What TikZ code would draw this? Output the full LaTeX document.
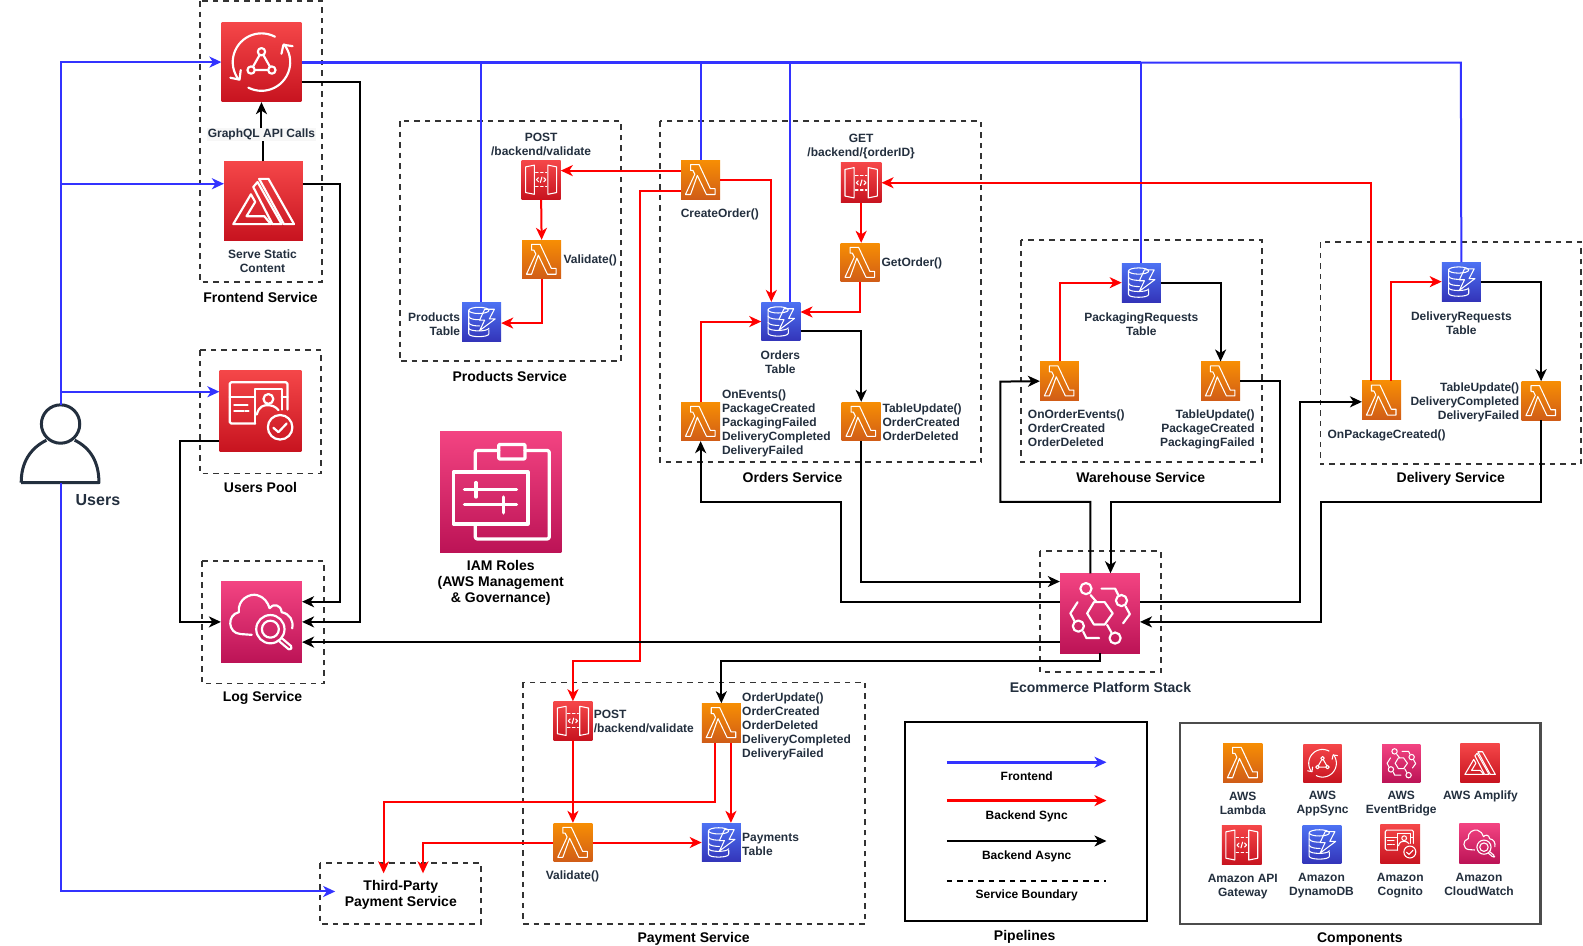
\documentclass[tikz,border=0pt]{standalone}
\usepackage{fontspec}
\setmainfont{Liberation Sans}
\usetikzlibrary{arrows.meta,calc}
\definecolor{ink}{HTML}{232F3E}
\definecolor{feblue}{HTML}{3333FF}
\definecolor{syncred}{HTML}{FF0000}
\definecolor{boundary}{HTML}{333333}
\tikzset{
 lbl/.style={font=\bfseries\fontsize{12}{14}\selectfont,text=ink,inner sep=0pt,align=center,yshift=-1.2pt},
 lbll/.style={lbl,align=left},
 lblr/.style={lbl,align=right},
 ttl/.style={font=\bfseries\fontsize{14}{16}\selectfont,text=black,inner sep=0pt,align=center,yshift=-1.2pt},
 tip/.style={-{Stealth[length=12pt,width=11pt,inset=3.5pt]}},
 bk/.style={draw=black,line width=2pt,line join=miter},
 rd/.style={draw=syncred,line width=2pt,line join=miter},
 bl/.style={draw=feblue,line width=2pt,line join=miter},
 dbox/.style={draw=boundary,line width=1.9pt,dash pattern=on 5.5pt off 5pt,inner sep=0pt},
 orangeico/.style={top color=orange1,bottom color=orange2,inner sep=0pt,draw=none},
 redico/.style={top color=red1,bottom color=red2,inner sep=0pt,draw=none},
 pinkico/.style={top color=pink1,bottom color=pink2,inner sep=0pt,draw=none},
 blueico/.style={top color=blue1,bottom color=blue2,inner sep=0pt,draw=none},
 glyph/.style={draw=white,line join=round,line cap=round},
}
\definecolor{orange1}{HTML}{F78E04}\definecolor{orange2}{HTML}{D05C17}
\definecolor{red1}{HTML}{F54749}\definecolor{red2}{HTML}{C7131F}
\definecolor{pink1}{HTML}{F34482}\definecolor{pink2}{HTML}{BC1356}
\definecolor{blue1}{HTML}{4D72F3}\definecolor{blue2}{HTML}{3334B9}
\newcommand\ico[6]{%
 \node[#5,minimum size=#4*1.0096pt] (#1) at (#2,#3) {};
 \pgfmathsetmacro\uu{#4*0.010096}\pgfmathsetmacro\lw{\uu*2.7}
 \begin{scope}[shift={(#1.center)},x=\uu pt,y=-\uu pt,line width=\lw pt]#6\end{scope}}
\newcommand\gLambda{\draw[glyph] (-26,-39)--(-4,-39)--(25,23)--(37,23)--(37,38)--(15,38)--(-8.5,-11)--(-26,38)--(-39,38)--(-15,-14)--(-20,-24)--(-26,-24)--cycle;}
\newcommand\gSync{\draw[glyph] plot[domain=62:217,samples=24] ({36*cos(\x)},{-36*sin(\x)});
 \draw[glyph] plot[domain=-117:38,samples=24] ({36*cos(\x)},{-36*sin(\x)});
 \draw[glyph] (-39,19.6)--(-27.5,22)--(-26,10); \draw[glyph] (25,-10.4)--(27.5,-21.7)--(39,-20);
 \draw[glyph] (0,-13)--(-13,10)--(13,10)--cycle;
 \foreach \p in {(0,-13),(-13,10),(13,10)} {\path[glyph,fill=red1!50!red2] \p circle[radius=4.6];}}
\newcommand\gAmplify{\draw[glyph] (-38.4,29.5)--(-16,-8.4)--(-10.5,1.3)--(-21.5,19.4)--(1,19.4)--(9.3,29.5)--cycle;
 \draw[glyph] (-13,-17.7)--(-7.6,-24)--(23,29.5)--(11.4,29.5)--cycle;
 \draw[glyph] (-5.5,-28)--(6.3,-28)--(38.8,29.5)--(26,29.5)--cycle;}
\newcommand\gBridge{\draw[glyph] (-16,0)--(-7.5,-14)--(6,-14)--(16,0)--(6,14)--(-7.5,14)--cycle;
 \draw[glyph] (-17.5,-31) circle[radius=7]; \draw[glyph] (27,-16) circle[radius=7];
 \draw[glyph] (-27,16) circle[radius=7]; \draw[glyph] (19,31) circle[radius=7];
 \draw[glyph] (-11.7,-22.9)--(-4,-14); \draw[glyph] (2,-31)--(19,-31)--(23,-23);
 \draw[glyph] (32,-9)--(37.5,1)--(29,12.5); \draw[glyph] (-28,-14)--(-37,0)--(-32,9.5);
 \draw[glyph] (-21,23)--(-17,31)--(-1,31); \draw[glyph] (9,14.5)--(14.5,24);}
\newcommand\gCognito{\draw[glyph,rounded corners=1.5] (-6.5,15.4)--(-37.6,15.4)--(-37.6,-35)--(33,-35)--(33,-1.6);
 \draw[glyph] (-37.6,-17.4)--(-6.5,-17.4); \draw[glyph] (26,-17.4)--(33,-17.4);
 \draw[glyph] (-6.5,15.4)--(-6.5,-26.7)--(26,-26.7)--(26,-1.6);
 \draw[glyph] (9.7,-14.6) circle[radius=6];
 \draw[glyph] (-4.5,4.5) .. controls (-2,-6) and (4,-7) .. (9,-7) .. controls (14,-7) and (19,-5) .. (22,-1);
 \draw[glyph] (-32,-7.7)--(-15.8,-7.7); \draw[glyph] (-32,.4)--(-20.6,.4); \draw[glyph] (-18.6,.4)--(-14.6,.4);
 \draw[glyph] (24,20) circle[radius=15]; \draw[glyph] (15.8,20.6)--(22,26)--(32,15.4);}
\newcommand\gWatch{\draw[glyph] (-12,16)--(-26,15) .. controls (-42,14) and (-43,-9) .. (-28,-12) .. controls (-30,-28) and (-14,-36) .. (-5,-33) .. controls (3,-31) and (8,-24) .. (10,-17) .. controls (14,-23) and (24,-22) .. (25,-12) .. controls (35,-10) and (40,-2) .. (38,8);
 \draw[glyph] (11,9) circle[radius=17.5]; \draw[glyph] (11,9) circle[radius=10.5];
 \draw[glyph,rounded corners=1.5] (25,20)--(38,31)--(35,35)--(22,24);}
\newcommand\gApi{\draw[glyph] (-40,-33)--(-17.5,-37.5)--(-17.5,37.5)--(-40,33)--cycle;
 \draw[glyph] (40,-33)--(17.5,-37.5)--(17.5,37.5)--(40,33)--cycle;
 \draw[glyph,dash pattern=on 2.5 off 2.5] (-14,-19)--(14,-19); \draw[glyph,dash pattern=on 2.5 off 2.5] (-14,18)--(14,18);
 \draw[glyph] (-7,-5)--(-12,0)--(-7,5); \draw[glyph] (7,-5)--(12,0)--(7,5); \draw[glyph] (2,-7)--(-2,7);}
\newcommand\gDynamo{\draw[glyph] (-7,-30) ellipse[x radius=26,y radius=8];
 \draw[glyph] (-33,-30)--(-33,30) .. controls (-33,40) and (19,40) .. (19,30)--(19,20);
 \draw[glyph] (-33,-14) .. controls (-30,-7) and (-15,-6) .. (-5,-6);
 \draw[glyph] (-33,2) .. controls (-30,9) and (-15,10) .. (-5,10);
 \draw[glyph] (-33,16) .. controls (-30,25) and (15,25) .. (19,16);
 \draw[glyph] (8,-33)--(33,-33)--(20,-8)--(35,-8)--(-5,22)--(8,-5)--(-5,-5)--cycle;}
\newcommand\gIam{\draw[glyph,rounded corners=2] (-21,-16)--(-21,-34)--(-1.7,-34); \draw[glyph,rounded corners=2] (20,-34)--(40,-34)--(40,39)--(-21,39)--(-21,26.6);
 \draw[glyph,rounded corners=1] (-1.7,-39) rectangle (20,-27);
 \draw[glyph] (-39,-16.3) rectangle (22.4,26.6);
 \draw[glyph] (-30,-2)--(13,-2); \draw[glyph] (-20.5,-7.5)--(-20.5,4.4);
 \draw[glyph] (-30,10.8)--(13,10.8); \draw[glyph] (2,4.4)--(2,17.5);}
\begin{document}
\begin{tikzpicture}[x=1.00957pt,y=-1.0096pt]
\useasboundingbox (0,0) rectangle (1568,937);
% service boundaries
\draw[dbox] (198,1) rectangle (319,279);
\draw[dbox] (198,347) rectangle (318,469);
\draw[dbox] (200,556) rectangle (321,677);
\draw[dbox] (396,120) rectangle (615,358);
\draw[dbox] (654,120) rectangle (972,458);
\draw[dbox] (1011,238) rectangle (1250,458);
\draw[dbox] (1308,240) rectangle (1566,460);
\draw[dbox] (518,676) rectangle (857,915);
\draw[dbox] (1030,546) rectangle (1150,666);
\draw[dbox] (317,855) rectangle (476,915);
% legend frames
\draw[black,line width=2pt] (896,715) rectangle (1136,912);
\draw[black!70,line width=2.4pt] (1169,716) rectangle (1526,915);
% icons
\ico{appsync}{259}{61.5}{79}{redico}{\gSync}
\ico{amplify}{261}{199}{78}{redico}{\gAmplify}
\ico{cognito}{258}{407}{81}{redico}{\gCognito}
\ico{cloud}{259}{616}{80}{pinkico}{\gWatch}
\ico{iam}{496}{487}{120}{pinkico}{\gIam}
\ico{bridge}{1089.5}{607.5}{79}{pinkico}{\gBridge}
\ico{apipost}{536}{178}{38.5}{redico}{\gApi}
\ico{validate}{536.5}{257}{38.5}{orangeico}{\gLambda}
\ico{prodtbl}{477}{319}{38.5}{blueico}{\gDynamo}
\ico{create}{694}{178}{38.5}{orangeico}{\gLambda}
\ico{apiget}{853}{181}{40}{redico}{\gApi}
\ico{getorder}{852}{260}{38.5}{orangeico}{\gLambda}
\ico{ordtbl}{773.5}{318.5}{38.5}{blueico}{\gDynamo}
\ico{onevents}{694}{417.5}{38.5}{orangeico}{\gLambda}
\ico{ordupd}{853}{417.5}{38.5}{orangeico}{\gLambda}
\ico{packtbl}{1130.5}{280}{38.5}{blueico}{\gDynamo}
\ico{onorder}{1049.5}{377.5}{38.5}{orangeico}{\gLambda}
\ico{whupd}{1209}{377.5}{38.5}{orangeico}{\gLambda}
\ico{deltbl}{1447.5}{279}{38.5}{blueico}{\gDynamo}
\ico{onpack}{1368.5}{396.5}{38.5}{orangeico}{\gLambda}
\ico{delupd}{1526.5}{397}{38.5}{orangeico}{\gLambda}
\ico{apipay}{567.5}{714}{38.5}{redico}{\gApi}
\ico{payupd}{714.5}{716}{38.5}{orangeico}{\gLambda}
\ico{payval}{567.5}{834.5}{38.5}{orangeico}{\gLambda}
\ico{paytbl}{714.5}{834.5}{38.5}{blueico}{\gDynamo}
\ico{lgl}{1231}{755.5}{39}{orangeico}{\gLambda}
\ico{lgs}{1310}{756}{38}{redico}{\gSync}
\ico{lge}{1388}{756}{38}{pinkico}{\gBridge}
\ico{lga}{1466}{755.5}{39}{redico}{\gAmplify}
\ico{lgg}{1230}{837}{39.5}{redico}{\gApi}
\ico{lgd}{1309.5}{836.5}{38.5}{blueico}{\gDynamo}
\ico{lgc}{1387}{836}{39.5}{redico}{\gCognito}
\ico{lgw}{1465.5}{835.5}{40}{pinkico}{\gWatch}
% user
\node[minimum width=78pt,minimum height=78pt,inner sep=0pt] (user) at (60,439.5) {};
\draw[draw=ink,line width=3pt] (60,420) circle[radius=19];
\draw[draw=ink,line width=3pt,line join=round] (21,478)--(98,478) .. controls (98,458) and (90,444) .. (74,436);
\draw[draw=ink,line width=3pt] (21,478) .. controls (21,458) and (30,444) .. (46,436);
% third party targets
\coordinate (tpA) at (380,865);\coordinate (tpB) at (419,865);\coordinate (tpC) at (332,883);
% blue
\draw[bl,tip] (user.north) -- (user.north |- appsync.west) -- (appsync.west);
\draw[bl,tip] (60,182) -- (amplify.west |- 0,182);
\draw[bl,tip] (60,388) -- (cognito.west |- 0,388);
\draw[bl,tip] (user.south) -- (user.south |- tpC) -- (tpC);
\draw[draw=feblue,line width=3pt] (appsync.east |- 0,62) -- (1130,62);
\draw[bl] (1130,62) -- (1447,62) -- (deltbl.north);
\draw[bl] (476,62) -- (prodtbl.north -| 476,0);
\draw[bl] (694,62) -- (create.north);
\draw[bl] (783,62) -- (ordtbl.north -| 783,0);
\draw[bl] (1130,62) -- (packtbl.north -| 1130,0);
% red
\draw[rd,tip] (create.west |- 0,169) -- (apipost.east |- 0,169);
\draw[rd,tip] (apipost.south) -- (validate.north);
\draw[rd,tip] (validate.south) -- (validate.south |- 0,320) -- (prodtbl.east |- 0,320);
\draw[rd,tip] (create.east) -- (764,178) -- (ordtbl.north -| 764,0);
\draw[rd,tip] (create.west |- 0,189) -- (634,189) -- (634,655) -- (apipay.north |- 0,655) -- (apipay.north);
\draw[rd,tip] (apiget.south) -- (getorder.north -| apiget.south);
\draw[rd,tip] (getorder.south) -- (getorder.south |- 0,309) -- (ordtbl.east |- 0,309);
\draw[rd,tip] (onevents.north) -- (onevents.north |- ordtbl.west) -- (ordtbl.west);
\draw[rd,tip] (onorder.north) -- (onorder.north |- packtbl.west) -- (packtbl.west);
\draw[rd,tip] (onpack.north -| 1378,0) -- (1378,279) -- (deltbl.west);
\draw[rd,tip] (onpack.north -| 1358,0) -- (1358,181) -- (apiget.east);
\draw[rd,tip] (apipay.south) -- (payval.north);
\draw[rd,tip] (payval.east) -- (paytbl.west);
\draw[rd,tip] (payval.west) -- (tpB |- payval.west) -- (tpB);
\draw[rd,tip] (payupd.south -| 708,0) -- (708,794) -- (tpA |- 0,794) -- (tpA);
\draw[rd,tip] (payupd.south -| 724,0) -- (paytbl.north -| 724,0);
% black
\draw[bk,tip] (amplify.north) -- (261,132) -- (259,132) -- (appsync.south);
\draw[bk,tip] (appsync.east |- 0,81) -- (357,81) -- (357,616) -- (cloud.east);
\draw[bk,tip] (amplify.east |- 0,182) -- (337,182) -- (337,596) -- (cloud.east |- 0,596);
\draw[bk,tip] (cognito.west |- 0,437) -- (178,437) -- (178,616) -- (cloud.west);
\draw[bk,tip] (bridge.west |- 0,636) -- (cloud.east |- 0,636);
\draw[bk,tip] (ordtbl.east |- 0,328) -- (853,328) -- (ordupd.north);
\draw[bk,tip] (ordupd.south) -- (853,576) -- (bridge.west |- 0,576);
\draw[bk,tip] (bridge.west |- 0,596) -- (833,596) -- (833,497) -- (694,497) -- (onevents.south);
\draw[bk,tip] (bridge.south) -- (bridge.south |- 0,655) -- (payupd.north |- 0,655) -- (payupd.north);
\draw[bk,tip] (bridge.north -| 1080,0) -- (1080,497) -- (991,497) -- (991,378) -- (onorder.west);
\draw[bk,tip] (whupd.east) -- (1268,377.5) -- (1268,497) -- (1100,497) -- (bridge.north -| 1100,0);
\draw[bk,tip] (packtbl.east) -- (whupd.north |- packtbl.east) -- (whupd.north);
\draw[bk,tip] (bridge.east |- 0,596) -- (1288,596) -- (1288,398) -- (onpack.west |- 0,398);
\draw[bk,tip] (delupd.south) -- (1526.5,497) -- (1308,497) -- (1308,616) -- (bridge.east |- 0,616);
\draw[bk,tip] (deltbl.east) -- (delupd.north |- deltbl.east) -- (delupd.north);
% legend samples
\coordinate (l1a) at (938,755);\coordinate (l1b) at (1096,755);
\coordinate (l2a) at (938,793);\coordinate (l2b) at (1096,793);
\coordinate (l3a) at (938,833);\coordinate (l3b) at (1096,833);
\coordinate (l4a) at (938,873);\coordinate (l4b) at (1096,873);
\draw[bl,line width=2.8pt,tip] (l1a) -- (l1b);
\draw[rd,line width=2.8pt,tip] (l2a) -- (l2b);
\draw[bk,line width=2.8pt,tip] (l3a) -- (l3b);
\draw[black,line width=1.9pt,dash pattern=on 5.5pt off 5pt] (l4a) -- (l4b);
% labels
\node[lbl,fill=gray!6,inner xsep=0.5pt,inner ysep=1pt] (gql) at (259,132) {GraphQL API Calls};
\node[lbl] (t1) at (260,258) {Serve Static\\Content};
\node[ttl] (t2) at (258,293) {Frontend Service};
\node[ttl] (t3) at (258,482) {Users Pool};
\node[ttl] (t4) at (260,690) {Log Service};
\node[font=\bfseries\fontsize{16}{18}\selectfont,text=ink,inner sep=0pt,yshift=-1.2pt] (t5) at (97,494) {Users};
\node[ttl] (t6) at (505,372) {Products Service};
\node[lbl] (t7) at (536,142) {POST\\/backend/validate};
\node[lbll,anchor=west] (t8) at (558,257) {Validate()};
\node[lblr,anchor=east] (t9) at (456,319.5) {Products\\Table};
\node[lbl] (t10) at (713,211) {CreateOrder()};
\node[lbl] (t11) at (853,144) {GET\\/backend/\{orderID\}};
\node[lbll,anchor=west] (t12) at (873,260) {GetOrder()};
\node[lbl] (t13) at (773,358) {Orders\\Table};
\node[lbll,anchor=west] (t14) at (715,418) {OnEvents()\\PackageCreated\\PackagingFailed\\DeliveryCompleted\\DeliveryFailed};
\node[lbll,anchor=west] (t15) at (874,416.8) {TableUpdate()\\OrderCreated\\OrderDeleted};
\node[ttl] (t16) at (785,472) {Orders Service};
\node[lbl] (t17) at (1130.5,319.5) {PackagingRequests\\Table};
\node[lbll,anchor=west] (t18) at (1018,422.8) {OnOrderEvents()\\OrderCreated\\OrderDeleted};
\node[lblr,anchor=east] (t19) at (1243,424) {TableUpdate()\\PackageCreated\\PackagingFailed};
\node[ttl] (t20) at (1130,472) {Warehouse Service};
\node[lbl] (t21) at (1447.5,318.5) {DeliveryRequests\\Table};
\node[lbl] (t22) at (1373.5,430) {OnPackageCreated()};
\node[lblr,anchor=east] (t23) at (1505,397) {TableUpdate()\\DeliveryCompleted\\DeliveryFailed};
\node[ttl] (t24) at (1437,473) {Delivery Service};
\node[ttl,text=ink] (t25) at (1090,680) {Ecommerce Platform Stack};
\node[ttl] (t26) at (496,576.5) {IAM Roles\\(AWS Management\\\& Governance)};
\node[lbll,anchor=west] (t27) at (588,713) {POST\\/backend/validate};
\node[lbll,anchor=west] (t28) at (735,718) {OrderUpdate()\\OrderCreated\\OrderDeleted\\DeliveryCompleted\\DeliveryFailed};
\node[lbl] (t29) at (567,867) {Validate()};
\node[lbll,anchor=west] (t30) at (735,835) {Payments\\Table};
\node[ttl] (t31) at (687,929) {Payment Service};
\node[ttl] (t32) at (397,885.5) {Third-Party\\Payment Service};
\node[lbl,text=black] (t33) at (1017,768) {Frontend};
\node[lbl,text=black] (t34) at (1017,807.5) {Backend Sync};
\node[lbl,text=black] (t35) at (1017,847) {Backend Async};
\node[lbl,text=black] (t36) at (1017,886) {Service Boundary};
\node[ttl] (t37) at (1015,927) {Pipelines};
\node[ttl] (t38) at (1347,929) {Components};
\node[lbl] (t39) at (1231,795) {AWS\\Lambda};
\node[lbl] (t40) at (1310,795) {AWS\\AppSync};
\node[lbl] (t41) at (1388,795) {AWS\\EventBridge};
\node[lbl] (t42) at (1466.5,788) {AWS Amplify};
\node[lbl] (t43) at (1231,877) {Amazon API\\Gateway};
\node[lbl] (t44) at (1309,876) {Amazon\\DynamoDB};
\node[lbl] (t45) at (1387,876) {Amazon\\Cognito};
\node[lbl] (t46) at (1465,875) {Amazon\\CloudWatch};
\end{tikzpicture}
\end{document}
